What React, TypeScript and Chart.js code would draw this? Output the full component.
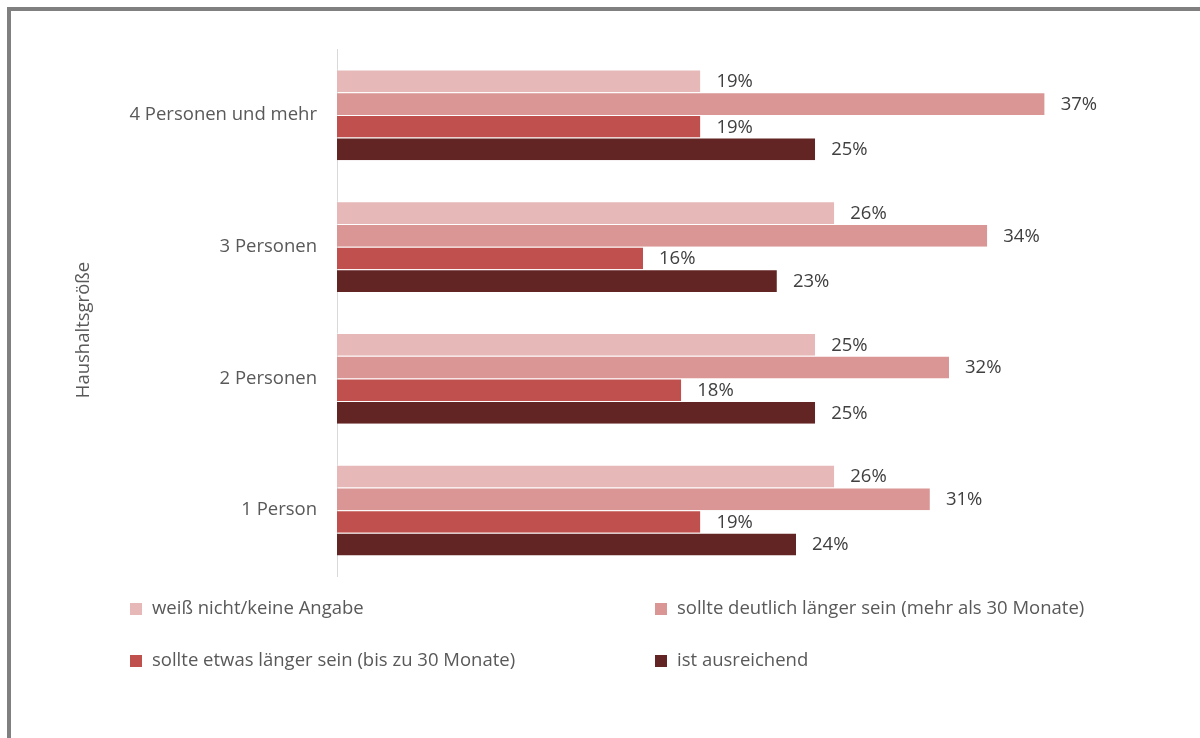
import React, { useEffect, useRef } from "react";
import { Chart, registerables } from "chart.js";

Chart.register(...registerables);

const categories = ["4 Personen und mehr", "3 Personen", "2 Personen", "1 Person"];
const seriesNames = [
  "weiß nicht/keine Angabe",
  "sollte deutlich länger sein (mehr als 30 Monate)",
  "sollte etwas länger sein (bis zu 30 Monate)",
  "ist ausreichend",
];
const weissNicht = [19, 26, 25, 26];
const deutlichLaenger = [37, 34, 32, 31];
const etwasLaenger = [19, 16, 18, 19];
const ausreichend = [25, 23, 25, 24];
const seriesColors = ["#E6B9B8", "#D99694", "#C0504D", "#632523"];
const axisTitle = "Haushaltsgröße";

const FONT = "'Open Sans', sans-serif";
const FS = 18.5;

const valueLabels = {
  id: "valueLabels",
  afterDatasetsDraw(chart: any) {
    const ctx = chart.ctx;
    ctx.save();
    ctx.font = `${FS}px ${FONT}`;
    ctx.fillStyle = "#404040";
    ctx.textAlign = "left";
    ctx.textBaseline = "middle";
    chart.data.datasets.forEach((ds: any, i: number) => {
      const meta = chart.getDatasetMeta(i);
      meta.data.forEach((el: any, j: number) => {
        ctx.fillText(`${ds.data[j]}%`, el.x + 16, el.y + 1);
      });
    });
    ctx.restore();
  },
};

const customLegend = {
  id: "customLegend",
  afterDraw(chart: any) {
    const ctx = chart.ctx;
    const cols = [130, 655];
    const rows = [609, 661];
    ctx.save();
    ctx.font = `${FS}px ${FONT}`;
    ctx.textAlign = "left";
    ctx.textBaseline = "middle";
    chart.data.datasets.forEach((ds: any, i: number) => {
      const x = cols[i % 2];
      const y = rows[Math.floor(i / 2)];
      ctx.fillStyle = ds.backgroundColor;
      ctx.fillRect(x, y - 6, 12, 12);
      ctx.fillStyle = "#595959";
      ctx.fillText(ds.label, x + 22, y);
    });
    ctx.restore();
  },
};

const yTitle = {
  id: "yTitle",
  afterDraw(chart: any) {
    const ctx = chart.ctx;
    ctx.save();
    ctx.translate(84, 330);
    ctx.rotate(-Math.PI / 2);
    ctx.font = `${FS}px ${FONT}`;
    ctx.fillStyle = "#595959";
    ctx.textAlign = "center";
    ctx.textBaseline = "middle";
    ctx.fillText(axisTitle, 0, 0);
    ctx.restore();
  },
};

export default function App() {
  const ref = useRef<HTMLCanvasElement>(null);
  useEffect(() => {
    if (!ref.current) return;
    const values = [weissNicht, deutlichLaenger, etwasLaenger, ausreichend];
    const chart = new Chart(ref.current, {
      type: "bar",
      data: {
        labels: categories,
        datasets: values.map((d, i) => ({
          label: seriesNames[i],
          data: d,
          backgroundColor: seriesColors[i],
          borderColor: "rgba(255,255,255,0.45)",
          borderWidth: { top: 1, bottom: 0, left: 0, right: 0 },
          categoryPercentage: 0.69,
          barPercentage: 1.0,
        })),
      },
      options: {
        indexAxis: "y",
        animation: false,
        responsive: false,
        maintainAspectRatio: false,
        layout: { padding: { left: 0, right: 98, top: 49, bottom: 162 } },
        plugins: {
          legend: { display: false },
          tooltip: { enabled: false },
        },
        scales: {
          x: {
            display: false,
            min: 0,
            max: 40,
          },
          y: {
            afterFit(scale: any) {
              scale.width = 337;
            },
            grid: { display: false, drawTicks: false },
            border: { display: true, color: "#D9D9D9", width: 1 },
            ticks: {
              padding: 20,
              color: "#595959",
              font: { family: FONT, size: FS },
            },
          },
        },
      },
      plugins: [valueLabels, customLegend, yTitle],
    });
    return () => chart.destroy();
  }, []);
  return (
    <>
      <div
        style={{
          position: "fixed",
          left: 7,
          top: 7,
          width: 1210,
          height: 750,
          border: "4px solid #808080",
          boxSizing: "border-box",
          pointerEvents: "none",
        }}
      />
      <canvas
        ref={ref}
        width={1200}
        height={738}
        style={{ position: "fixed", left: 0, top: 0, width: 1200, height: 738 }}
      />
    </>
  );
}
